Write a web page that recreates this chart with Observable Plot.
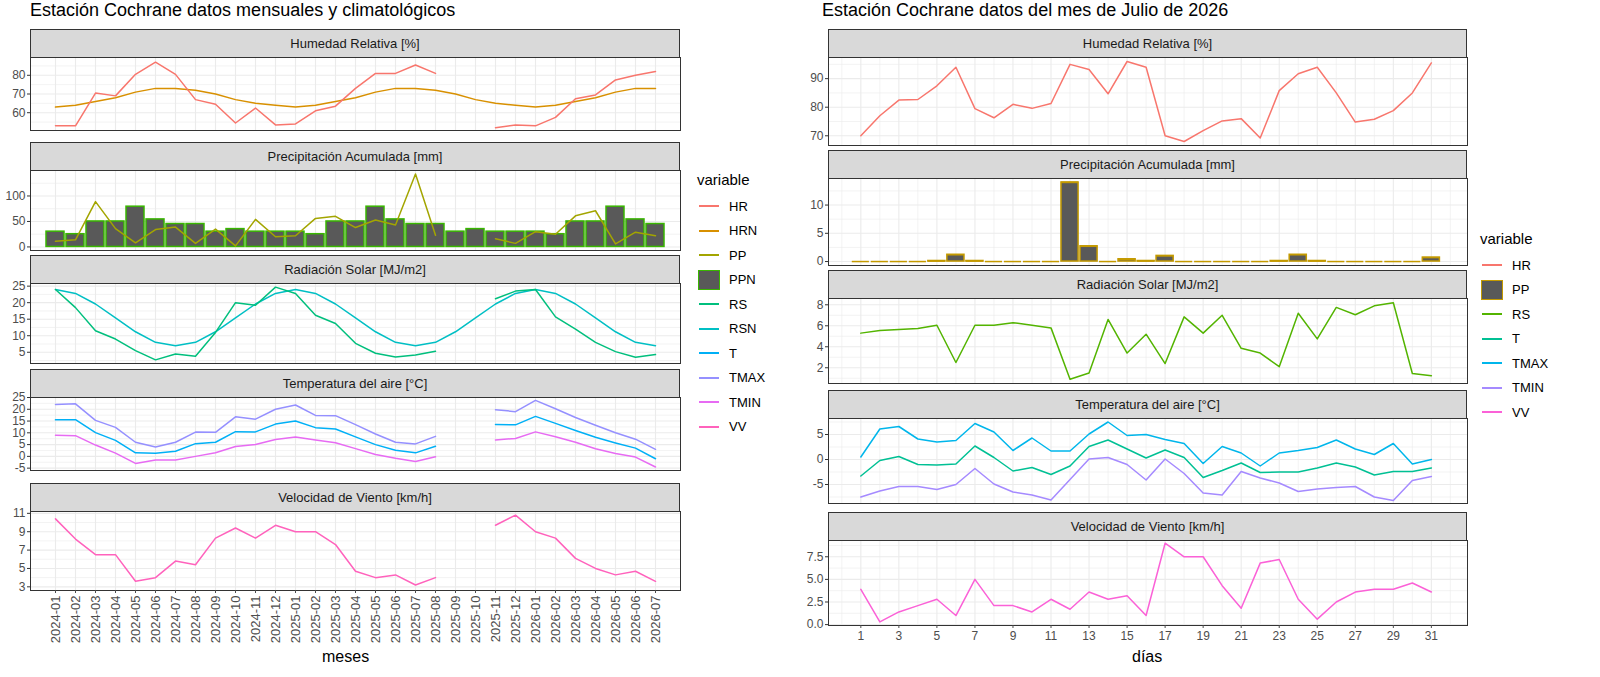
<!DOCTYPE html>
<html><head><meta charset="utf-8">
<script src="https://cdn.jsdelivr.net/npm/d3@7"></script>
<script src="https://cdn.jsdelivr.net/npm/@observablehq/plot@0.6"></script>
<style>
body{margin:0;background:#fff;font-family:"Liberation Sans",Arial,sans-serif;}
#root{position:relative;width:1600px;height:677px;overflow:hidden;}
.abs{position:absolute;}
.strip{position:absolute;background:#D9D9D9;border:1px solid #333;box-sizing:border-box;font-size:13px;color:#1A1A1A;display:flex;align-items:center;justify-content:center;}
.title{position:absolute;font-size:18px;color:#000;white-space:nowrap;}
.leg{position:absolute;font-size:14px;color:#000;}
.legi{display:flex;align-items:center;height:24.5px;font-size:13px;}
.key{width:24px;height:20px;margin-right:8px;position:relative;}
</style></head><body><div id="root"></div>
<script>
const months=["2024-01","2024-02","2024-03","2024-04","2024-05","2024-06","2024-07","2024-08","2024-09","2024-10","2024-11","2024-12","2025-01","2025-02","2025-03","2025-04","2025-05","2025-06","2025-07","2025-08","2025-09","2025-10","2025-11","2025-12","2026-01","2026-02","2026-03","2026-04","2026-05","2026-06","2026-07"];
const N=null;
const mHR=[53,53,70.5,69,80.5,87,80.5,67,64.5,54.5,62.5,53.5,54,61,63.5,73,81,81,85.5,81,N,N,52,53.5,53,57.5,67.5,69.5,77.5,80,82];
const mHRN=[63,64,66,68,71,73,73,72,70,67,65,64,63,64,66,68,71,73,73,72,70,67,65,64,63,64,66,68,71,73,73];
const mPPN=[30,25,50,50,79,54,45,45,30,35,30,30,30,25,50,50,79,54,45,45,30,35,30,30,30,25,50,50,79,54,45];
const mPP=[11,14,89,36,8,34,39,7,35,2,54,20,22,56,60,38,53,43,143,23,N,N,16,7,30,25,61,71,6,29,22];
const mRS=[24,18.5,11.5,9,5.5,2.7,4.5,3.8,11,20,19.2,24.7,22.8,16.2,13.7,7.7,4.7,3.6,4.2,5.3,N,N,21.2,23.5,24,15.7,12,8,5.2,3.5,4.3];
const mRSN=[24,22.8,19.6,15.4,11.2,8,7,8,11.2,15.4,19.6,22.8,24,22.8,19.6,15.4,11.2,8,7,8,11.2,15.4,19.6,22.8,24,22.8,19.6,15.4,11.2,8,7];
const mTMAX=[22,22.3,15.3,12.3,6,4,6,10.3,10.2,16.8,15.8,20,21.8,17.4,17.3,13.5,9.5,6,5.3,8.5,N,N,19.8,19,23.8,20.2,16.5,13.2,10,7.3,3];
const mT=[15.5,15.6,10.1,6.8,1.5,1.3,2.2,5.4,6,10.5,10.4,13.7,15,12.2,11.6,8.3,5,2.6,1.5,4.3,N,N,13.5,13.4,17,14,11,8.1,5.7,3.5,-1];
const mTMIN=[9,8.8,4.8,1.4,-3,-1.5,-1.5,0,1.5,4.2,5,7.2,8.2,7,5.8,3.3,0.8,-0.8,-2.2,-0.2,N,N,7,7.6,10.4,8.3,6,3.2,1.2,-0.3,-4.5];
const mVV=[10.4,8.2,6.5,6.5,3.6,4,5.8,5.4,8.3,9.4,8.3,9.7,9,9,7.6,4.7,4,4.3,3.2,4,N,N,9.7,10.8,9,8.3,6.1,5,4.3,4.7,3.6];

const days=d3.range(1,32);
const dHR=[70,77,82.5,82.7,87.5,94,79.5,76.3,81,79.6,81.3,95,93.2,84.7,96,94,70,68,71.8,75.2,76,69.2,85.8,91.7,94,85,74.8,75.8,78.8,85,95.5];
const dPP=[0,0,0,0,0.1,1.2,0.1,0,0,0,0,14,2.7,0,0.4,0.1,1,0,0,0,0,0,0.1,1.2,0.1,0,0,0,0,0,0.7];
const dRS=[5.3,5.55,5.65,5.75,6.05,2.5,6.05,6.05,6.3,6.05,5.8,0.9,1.5,6.6,3.4,5.2,2.4,6.85,5.3,7,3.85,3.4,2.1,7.2,4.75,7.75,7.05,7.9,8.2,1.45,1.25];
const dTMAX=[0.5,6.1,6.6,4.1,3.5,3.8,7.2,5.5,1.8,4.3,1.7,1.7,5.1,7.5,4.8,5,4,3.2,-0.8,2.6,1.3,-1.3,1.3,1.8,2.4,3.9,2.1,1,3.2,-0.9,0];
const dT=[-3.3,-0.2,0.6,-1,-1.1,-0.9,2.7,0.4,-2.3,-1.6,-3,-1.3,2.6,3.9,2.1,0.3,1.9,0.4,-3.6,-2.2,-0.7,-2.6,-2.5,-2.5,-1.7,-0.7,-1.5,-3.1,-2.4,-2.4,-1.7];
const dTMIN=[-7.5,-6.3,-5.4,-5.4,-6,-5,-1.8,-4.9,-6.5,-7.1,-8.1,-4,0.1,0.4,-1,-4.1,0.1,-2.8,-6.7,-7.1,-2.4,-3.7,-4.7,-6.4,-5.9,-5.6,-5.4,-7.5,-8.2,-4.2,-3.4];
const dVV=[3.9,0.3,1.4,2.1,2.8,1,5,2.1,2.1,1.4,2.8,1.7,3.6,2.8,3.2,1,9,7.5,7.5,4.3,1.8,6.8,7.2,2.8,0.6,2.5,3.6,3.9,3.9,4.6,3.6];
const dayTicks=d3.range(1,32,2);

const colL={HR:"#F8766D",HRN:"#D89000",PP:"#A3A500",PPN:"#39B600",RS:"#00BF7D",RSN:"#00BFC4",T:"#00B0F6",TMAX:"#9590FF",TMIN:"#E76BF3",VV:"#FF62BC"};
const colR={HR:"#F8766D",PP:"#C49A00",RS:"#53B400",T:"#00C094",TMAX:"#00B6EB",TMIN:"#A58AFF",VV:"#FB61D7"};

const root=document.getElementById("root");
function div(cls,css,html){const e=document.createElement("div");e.className=cls;Object.assign(e.style,css);e.innerHTML=html||"";root.appendChild(e);return e;}

const mrows=(key,arr)=>months.map((m,i)=>({x:m,y:arr[i],k:key}));
const drows=(key,arr)=>days.map((d,i)=>({x:d,y:arr[i],k:key}));

function facet(side,top,h,label,yDomain,yTicks,fmt,marks,last){
  const L=side==="L";
  const left=L?0:790, width=L?682:679, mL=L?30:38, stripTop=top-28;
  div("strip",{left:(left+mL)+"px",top:stripTop+"px",width:(width-mL-2)+"px",height:"29px"},label);
  const minor=[];for(let i=0;i<yTicks.length-1;i++)minor.push((yTicks[i]+yTicks[i+1])/2);
  const step=yTicks[1]-yTicks[0];
  minor.unshift(yTicks[0]-step/2);minor.push(yTicks[yTicks.length-1]+step/2);
  const mB=last?(L?62:40):0;
  const xopt=L?{type:"band",domain:months,padding:0.1,paddingOuter:0.15,align:0.5,axis:null}:{type:"linear",domain:[-0.7,32.9],axis:null};
  const xMinor=L?[]:d3.range(0,33);
  const p=Plot.plot({
    width,height:h+mB,marginLeft:mL,marginRight:2,marginTop:0,marginBottom:mB,
    style:{fontFamily:"Liberation Sans, Arial, sans-serif",background:"transparent",overflow:"visible"},
    x:xopt,y:{domain:yDomain,axis:null},
    marks:[
      Plot.ruleY(minor.filter(v=>v>yDomain[0]&&v<yDomain[1]),{stroke:"#EBEBEB",strokeWidth:0.6}),
      L?Plot.ruleX(months,{x:d=>d,stroke:"#EBEBEB",strokeWidth:1.1}):Plot.ruleX(xMinor,{x:d=>d,stroke:"#EBEBEB",strokeWidth:d=>d%2===1?1.1:0.6}),
      Plot.ruleY(yTicks,{stroke:"#EBEBEB",strokeWidth:1.1}),
      ...marks,
      Plot.frame({stroke:"#333",strokeWidth:1}),
      Plot.axisY({ticks:yTicks,tickSize:3,tickPadding:2,fontSize:12,tickFormat:fmt||(d=>String(d)),label:null,stroke:"#333",color:"#4D4D4D"}),
      last?(L?Plot.axisX({tickSize:3,tickRotate:-90,fontSize:13,tickPadding:2,label:null,color:"#4D4D4D"})
             :Plot.axisX({ticks:dayTicks,tickSize:3,fontSize:12,tickPadding:3,label:null,color:"#4D4D4D"})):null
    ]
  });
  const w=document.createElement("div");w.className="abs";w.style.left=left+"px";w.style.top=top+"px";w.appendChild(p);root.appendChild(w);
}
const ln=(rows,c)=>Plot.line(rows,{x:"x",y:"y",stroke:c,strokeWidth:1.5,defined:d=>d.y!=null});

// LEFT
div("title",{left:"30px",top:"0px"},"Estación Cochrane datos mensuales y climatológicos");
facet("L",57,73,"Humedad Relativa [%]",[50.5,89.5],[60,70,80],null,[ln(mrows("HRN",mHRN),colL.HRN),ln(mrows("HR",mHR),colL.HR)]);
facet("L",170,80,"Precipitación Acumulada [mm]",[-7,150],[0,50,100],null,[
  Plot.barY(mrows("PPN",mPPN),{x:"x",y:"y",fill:"#595959",stroke:colL.PPN,strokeWidth:1.5}),
  ln(mrows("PP",mPP),colL.PP)]);
facet("L",283,80,"Radiación Solar [MJ/m2]",[1.6,25.8],[5,10,15,20,25],null,[ln(mrows("RSN",mRSN),colL.RSN),ln(mrows("RS",mRS),colL.RS)]);
facet("L",397,73,"Temperatura del aire [°C]",[-6,25],[-5,0,5,10,15,20,25],null,[ln(mrows("TMAX",mTMAX),colL.TMAX),ln(mrows("T",mT),colL.T),ln(mrows("TMIN",mTMIN),colL.TMIN)]);
facet("L",511,79,"Velocidad de Viento [km/h]",[2.6,11.2],[3,5,7,9,11],null,[ln(mrows("VV",mVV),colL.VV)],true);
div("title",{left:"322px",top:"648px",fontSize:"16px"},"meses");

// RIGHT
div("title",{left:"822px",top:"0px"},"Estación Cochrane datos del mes de Julio de 2026");
facet("R",57,88,"Humedad Relativa [%]",[66.6,97.4],[70,80,90],null,[ln(drows("HR",dHR),colR.HR)]);
facet("R",178,87,"Precipitación Acumulada [mm]",[-0.7,14.7],[0,5,10],null,[
  Plot.rectY(drows("PP",dPP),{x1:d=>d.x-0.45,x2:d=>d.x+0.45,y1:0,y2:"y",fill:"#595959",stroke:colR.PP,strokeWidth:1.5}),
  Plot.ruleY(drows("PP",dPP),{x1:d=>d.x-0.45,x2:d=>d.x+0.45,y:"y",stroke:colR.PP,strokeWidth:1.5})]);
facet("R",298,85,"Radiación Solar [MJ/m2]",[0.5,8.6],[2,4,6,8],null,[ln(drows("RS",dRS),colR.RS)]);
facet("R",418,85,"Temperatura del aire [°C]",[-8.8,8.2],[-5,0,5],null,[ln(drows("TMAX",dTMAX),colR.TMAX),ln(drows("T",dT),colR.T),ln(drows("TMIN",dTMIN),colR.TMIN)]);
facet("R",540,85,"Velocidad de Viento [km/h]",[-0.1,9.3],[0,2.5,5,7.5],d3.format(".1f"),[ln(drows("VV",dVV),colR.VV)],true);
div("title",{left:"1132px",top:"648px",fontSize:"16px"},"días");

function legend(x,y,col,boxKey){
  const g=div("leg",{left:x+"px",top:y+"px"},"<div style='font-size:15px;margin-bottom:6px'>variable</div>");
  for(const k of Object.keys(col)){
    const it=document.createElement("div");it.className="legi";
    const key=k===boxKey?`<div class="key"><div style="position:absolute;left:1px;top:0;width:20px;height:18px;background:#595959;border:1.5px solid ${col[k]}"></div></div>`
      :`<div class="key"><div style="position:absolute;left:2px;top:9px;width:20px;height:2px;background:${col[k]}"></div></div>`;
    it.innerHTML=key+"<span>"+k+"</span>";g.appendChild(it);
  }
}
legend(697,171,colL,"PPN");
legend(1480,230,colR,"PP");
</script></body></html>
